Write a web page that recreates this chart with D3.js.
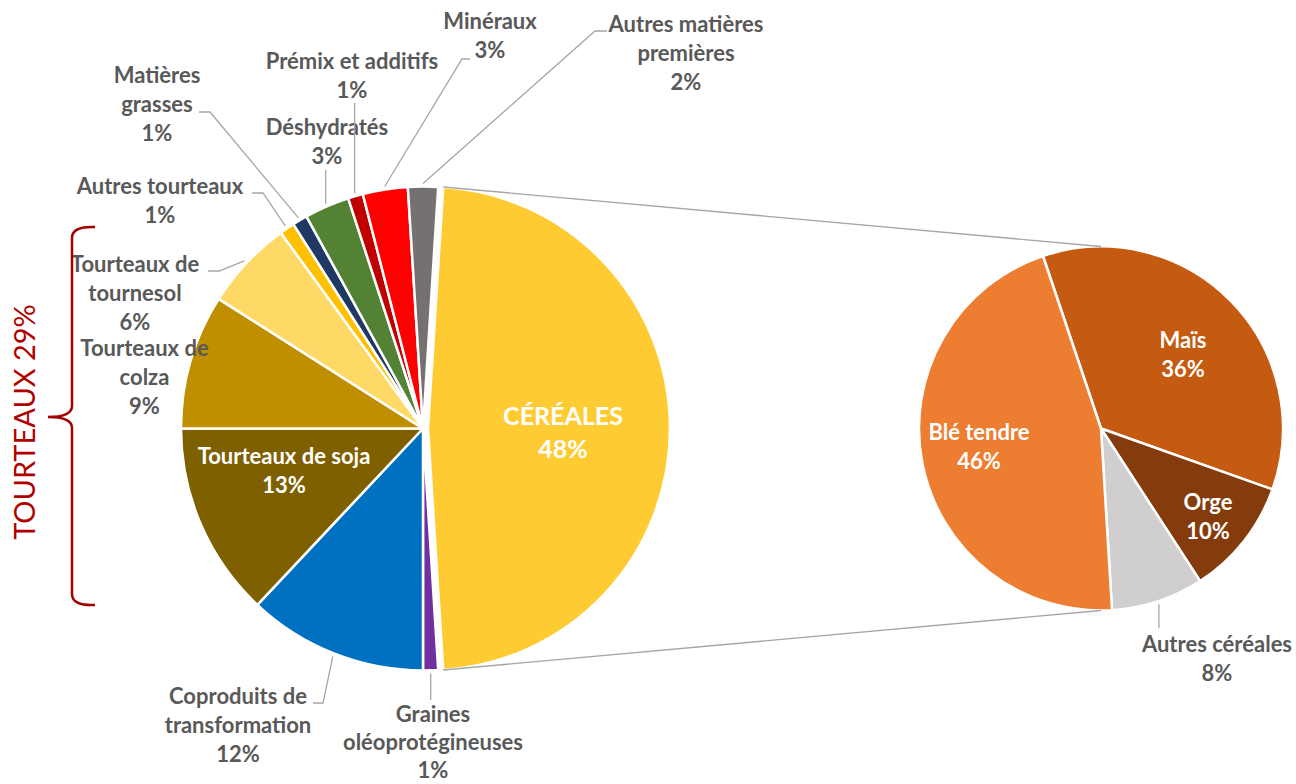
<!DOCTYPE html>
<html>
<head>
<meta charset="utf-8">
<script src="https://d3js.org/d3.v7.min.js"></script>
<style>
  body { margin: 0; background: #fff; }
  text { font-family: Lato, "Open Sans", sans-serif; }
</style>
</head>
<body>
<svg id="chart" width="1296" height="784"></svg>
<script>
// main pie
var mainNames = ["CÉRÉALES", "Graines oléoprotégineuses", "Coproduits de transformation", "Tourteaux de soja",
                 "Tourteaux de colza", "Tourteaux de tournesol", "Autres tourteaux", "Matières grasses",
                 "Déshydratés", "Prémix et additifs", "Minéraux", "Autres matières premières"];
var mainValues = [48, 1, 12, 13, 9, 6, 1, 1, 3, 1, 3, 2];
var tourteauxGroup = ["Tourteaux de soja", "Tourteaux de colza", "Tourteaux de tournesol", "Autres tourteaux"];

// secondary pie (detail of céréales)
var subNames = ["Maïs", "Orge", "Autres céréales", "Blé tendre"];
var subValues = [35.6, 10.4, 8.2, 45.8];

var mainColors = ["#FFCB33", "#7030A0", "#0070C0", "#7F6000", "#BF8F00", "#FFD966",
                  "#FFC000", "#1F3864", "#548235", "#C00000", "#FF0000", "#767171"];
var subColors = ["#C55A11", "#843C0C", "#D0CECE", "#ED7D31"];

var svg = d3.select("#chart");
var grey = "#595959", leaderColor = "#A6A6A6";
var deg = Math.PI / 180;

var main = {cx: 423, cy: 428.5, r: 242, start: 3.6 * deg, explode: 5};
var sub = {cx: 1101, cy: 428.5, r: 182, start: -18.6 * deg};

// label layout: x centre, first baseline, line text, leader path start points
var mainLayout = {
  "CÉRÉALES": {x: 563, y: 425, lines: ["CÉRÉALES"], fill: "#fff", size: 25, step: 33},
  "Graines oléoprotégineuses": {x: 433, y: 722, lines: ["Graines", "oléoprotégineuses"], vertical: 700, step: 28},
  "Coproduits de transformation": {x: 238, y: 704, lines: ["Coproduits de", "transformation"], leader: [[313, 703], [323, 703]]},
  "Tourteaux de soja": {x: 284, y: 464, lines: ["Tourteaux de soja"], fill: "#fff"},
  "Tourteaux de colza": {x: 144.5, y: 356, lines: ["Tourteaux de", "colza"]},
  "Tourteaux de tournesol": {x: 135, y: 272, lines: ["Tourteaux de", "tournesol"], leader: [[208, 271], [219, 271]]},
  "Autres tourteaux": {x: 160, y: 194, lines: ["Autres tourteaux"], leader: [[252, 193], [263, 193]]},
  "Matières grasses": {x: 157, y: 83, lines: ["Matières", "grasses"], leader: [[199, 112], [210, 112]]},
  "Déshydratés": {x: 327, y: 135, lines: ["Déshydratés"], vertical: 170},
  "Prémix et additifs": {x: 352, y: 69, lines: ["Prémix et additifs"], vertical: 103},
  "Minéraux": {x: 490, y: 29, lines: ["Minéraux"], leader: [[470, 59], [462, 59]]},
  "Autres matières premières": {x: 686, y: 32, lines: ["Autres matières", "premières"], leader: [[607, 31], [595, 31]]}
};
var subLayout = {
  "Maïs": {x: 1183, y: 348, lines: ["Maïs"], fill: "#fff"},
  "Orge": {x: 1208, y: 510, lines: ["Orge"], fill: "#fff"},
  "Autres céréales": {x: 1217, y: 652, lines: ["Autres céréales"], vertical: 628},
  "Blé tendre": {x: 979, y: 440, lines: ["Blé tendre"], fill: "#fff"}
};

function pct(v) { return Math.round(v) + "%"; }

function drawPie(cfg, names, values, colors, layout, explodeFirst) {
  var pie = d3.pie().sort(null).startAngle(cfg.start).endAngle(cfg.start + 2 * Math.PI);
  var arcs = pie(values);
  arcs.forEach(function(a, i) { a.name = names[i]; a.color = colors[i]; });
  var arc = d3.arc().innerRadius(0).outerRadius(cfg.r);
  var g = svg.append("g").attr("transform", "translate(" + cfg.cx + "," + cfg.cy + ")");

  g.selectAll("path")
    .data(arcs)
    .enter()
    .append("path")
    .attr("d", arc)
    .attr("transform", function(d, i) {
      if (explodeFirst && i === 0) {
        var m = (d.startAngle + d.endAngle) / 2;
        return "translate(" + (Math.sin(m) * cfg.explode) + "," + (-Math.cos(m) * cfg.explode) + ")";
      }
      return null;
    })
    .style("fill", function(d) { return d.color; })
    .style("stroke", "#fff")
    .style("stroke-width", 2.5)
    .style("stroke-linejoin", "round");

  // labels + leaders
  arcs.forEach(function(d) {
    var L = layout[d.name];
    var m = (d.startAngle + d.endAngle) / 2;
    var px = cfg.cx + Math.sin(m) * (cfg.r + 3), py = cfg.cy - Math.cos(m) * (cfg.r + 3);
    if (L.leader) {
      var pts = L.leader.concat([[px, py]]);
      svg.append("path").attr("d", d3.line()(pts))
        .style("fill", "none").style("stroke", leaderColor).style("stroke-width", 1.3);
    }
    if (L.vertical) {
      svg.append("line").attr("x1", px).attr("x2", px).attr("y1", L.vertical).attr("y2", py)
        .style("stroke", leaderColor).style("stroke-width", 1.3);
    }
    var lines = L.lines.concat([pct(d.value)]);
    var step = L.step || 29;
    svg.append("g").selectAll("text")
      .data(lines)
      .enter()
      .append("text")
      .attr("x", L.x)
      .attr("y", function(t, i) { return L.y + i * step; })
      .attr("text-anchor", "middle")
      .style("font-size", (L.size || 22) + "px")
      .style("font-weight", 700)
      .style("fill", L.fill || grey)
      .text(function(t) { return t; });
  });
  return arcs;
}

var mainArcs = drawPie(main, mainNames, mainValues, mainColors, mainLayout, true);
drawPie(sub, subNames, subValues, subColors, subLayout, false);

// connector lines between céréales slice and the secondary pie
var cer = mainArcs[0];
var cm = (cer.startAngle + cer.endAngle) / 2;
var ox = main.cx + Math.sin(cm) * main.explode, oy = main.cy - Math.cos(cm) * main.explode;
var connectors = [
  [[ox + Math.sin(cer.startAngle) * main.r, oy - Math.cos(cer.startAngle) * main.r], [sub.cx, sub.cy - sub.r]],
  [[ox + Math.sin(cer.endAngle) * main.r, oy - Math.cos(cer.endAngle) * main.r], [sub.cx, sub.cy + sub.r]]
];
svg.selectAll(".connector")
  .data(connectors)
  .enter()
  .append("path")
  .attr("class", "connector")
  .attr("d", function(d) { return d3.line()(d); })
  .style("stroke", leaderColor)
  .style("stroke-width", 1.3)
  .style("fill", "none");

// brace for the tourteaux group
var brace = d3.path();
brace.moveTo(95, 227);
brace.quadraticCurveTo(72, 226, 72, 238);
brace.lineTo(72, 406);
brace.quadraticCurveTo(72, 417, 48, 417);
brace.quadraticCurveTo(72, 417, 72, 428);
brace.lineTo(72, 594);
brace.quadraticCurveTo(72, 606, 95, 605);
svg.append("path").attr("d", brace.toString())
  .style("fill", "none").style("stroke", "#A50000").style("stroke-width", 2.5);

var tourteauxTotal = d3.sum(mainNames.map(function(n, i) { return tourteauxGroup.indexOf(n) >= 0 ? mainValues[i] : 0; }));
svg.append("text")
  .attr("transform", "translate(35,422) rotate(-90)")
  .attr("text-anchor", "middle")
  .style("font-size", "29px")
  .style("fill", "#B00000")
  .text("TOURTEAUX " + tourteauxTotal + "%");
</script>
</body>
</html>
